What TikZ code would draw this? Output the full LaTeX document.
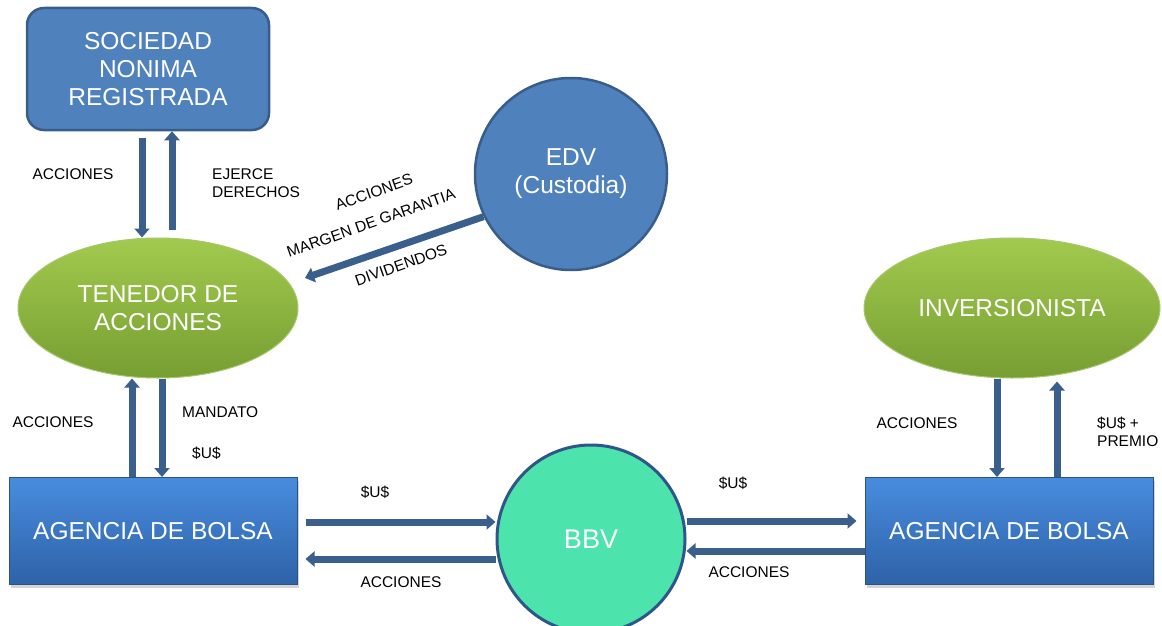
\documentclass[tikz,border=0pt]{standalone}
\usepackage{fontspec}
\setmainfont{Liberation Sans}
\usetikzlibrary{arrows.meta,shapes.geometric,shadows}
\definecolor{bfill}{RGB}{79,129,189}
\definecolor{bborder}{RGB}{56,93,138}
\definecolor{gtop}{RGB}{162,202,78}
\definecolor{gbot}{RGB}{118,158,50}
\definecolor{gborder}{RGB}{168,198,110}
\definecolor{atop}{RGB}{72,140,222}
\definecolor{abot}{RGB}{46,98,168}
\definecolor{aborder}{RGB}{44,82,130}
\definecolor{bbvfill}{RGB}{77,227,173}
\definecolor{bbvborder}{RGB}{46,86,136}
\definecolor{arrowc}{RGB}{59,95,140}
\begin{document}
\begin{tikzpicture}[x=1pt,y=-1pt,
  big/.style={font=\fontsize{24.5}{28}\selectfont, text=white, align=center},
  lbl/.style={font=\fontsize{15.5}{18}\selectfont, align=left, inner sep=0pt},
  socbox/.style={big, rectangle, rounded corners=17pt, minimum width=242pt, minimum height=122pt,
     fill=bfill, draw=bborder, line width=2.5pt, inner sep=0pt},
  ellbox/.style={big, ellipse, minimum height=140pt, inner sep=0pt,
     top color=gtop, bottom color=gbot, draw=gborder, line width=1pt},
  edvbox/.style={big, circle, minimum size=192pt, inner sep=0pt,
     fill=bfill, draw=bborder, line width=2.5pt},
  agbox/.style={big, rectangle, minimum width=288pt, minimum height=107pt, inner sep=0pt,
     top color=atop, bottom color=abot, draw=aborder, line width=1pt,
     drop shadow={opacity=0.35, shadow xshift=2pt, shadow yshift=-3pt}},
  bbvbox/.style={big, font=\fontsize{27}{30}\selectfont, circle, minimum size=188pt, inner sep=0pt,
     fill=bbvfill, draw=bbvborder, line width=3pt},
  arr/.style={draw=arrowc, line width=7pt, -{Triangle[width=15pt,length=9pt]}}
]
\useasboundingbox (0,0) rectangle (1162,626);

% nodes
\node[socbox] (soc) at (148,69) {SOCIEDAD\\NONIMA\\REGISTRADA};
\node[ellbox, minimum width=280pt] (ten) at (158,308) {TENEDOR DE\\ACCIONES};
\node[edvbox] (edv) at (571,174) {EDV\\(Custodia)};
\node[ellbox, minimum width=296pt] (inv) at (1012,308) {INVERSIONISTA};
\node[agbox] (ag1) at (153,531) {AGENCIA DE BOLSA};
\node[agbox] (ag2) at (1009,531) {AGENCIA DE BOLSA};
\node[bbvbox] (bbv) at (591,539) {BBV};
\coordinate (tenR) at (305,278);

% vertical connectors
\draw[arr, shorten <=7pt] (soc.south -| 142,0) -- (ten.north -| 142,0);
\draw[arr, shorten <=8pt] (ten.north -| 172,0) -- (soc.south -| 172,0);
\draw[arr] (ag1.north -| 132,0) -- (ten.south -| 132,0);
\draw[arr] (ten.south -| 162,0) -- (ag1.north -| 162,0);
\draw[arr] (inv.south -| 997,0) -- (ag2.north -| 997,0);
\draw[arr, shorten >=3pt] (ag2.north -| 1057,0) -- (inv.south -| 1057,0);

% EDV connector
\draw[arr] (edv.206) -- (tenR);

% horizontal connectors
\draw[arr, shorten <=8pt] (ag1.east |- 0,522) -- (bbv.west |- 0,522);
\draw[arr, shorten >=8pt] (bbv.west |- 0,559) -- (ag1.east |- 0,559);
\draw[arr, shorten >=8pt] (bbv.east |- 0,521) -- (ag2.west |- 0,521);
\draw[arr] (ag2.west |- 0,551) -- (bbv.east |- 0,551);

% labels
\node[lbl] (l1) at (73,174) {ACCIONES};
\node[lbl, anchor=west] (l2) at (212,183) {EJERCE\\DERECHOS};
\node[lbl, rotate=19.5] (l3) at (374,192) {ACCIONES};
\node[lbl, rotate=19.5] (l4) at (371,223) {MARGEN DE GARANTIA};
\node[lbl, rotate=19.5] (l5) at (401,265) {DIVIDENDOS};
\node[lbl] (l6) at (53,422) {ACCIONES};
\node[lbl, anchor=west] (l7) at (182,412) {MANDATO};
\node[lbl, anchor=west] (l8) at (192,453) {\$U\$};
\node[lbl] (l9) at (375,492) {\$U\$};
\node[lbl] (l10) at (401,582) {ACCIONES};
\node[lbl] (l11) at (733,483) {\$U\$};
\node[lbl] (l12) at (749,572) {ACCIONES};
\node[lbl] (l13) at (917,423) {ACCIONES};
\node[lbl, anchor=west] (l14) at (1097,432) {\$U\$ +\\PREMIO};
\end{tikzpicture}
\end{document}
